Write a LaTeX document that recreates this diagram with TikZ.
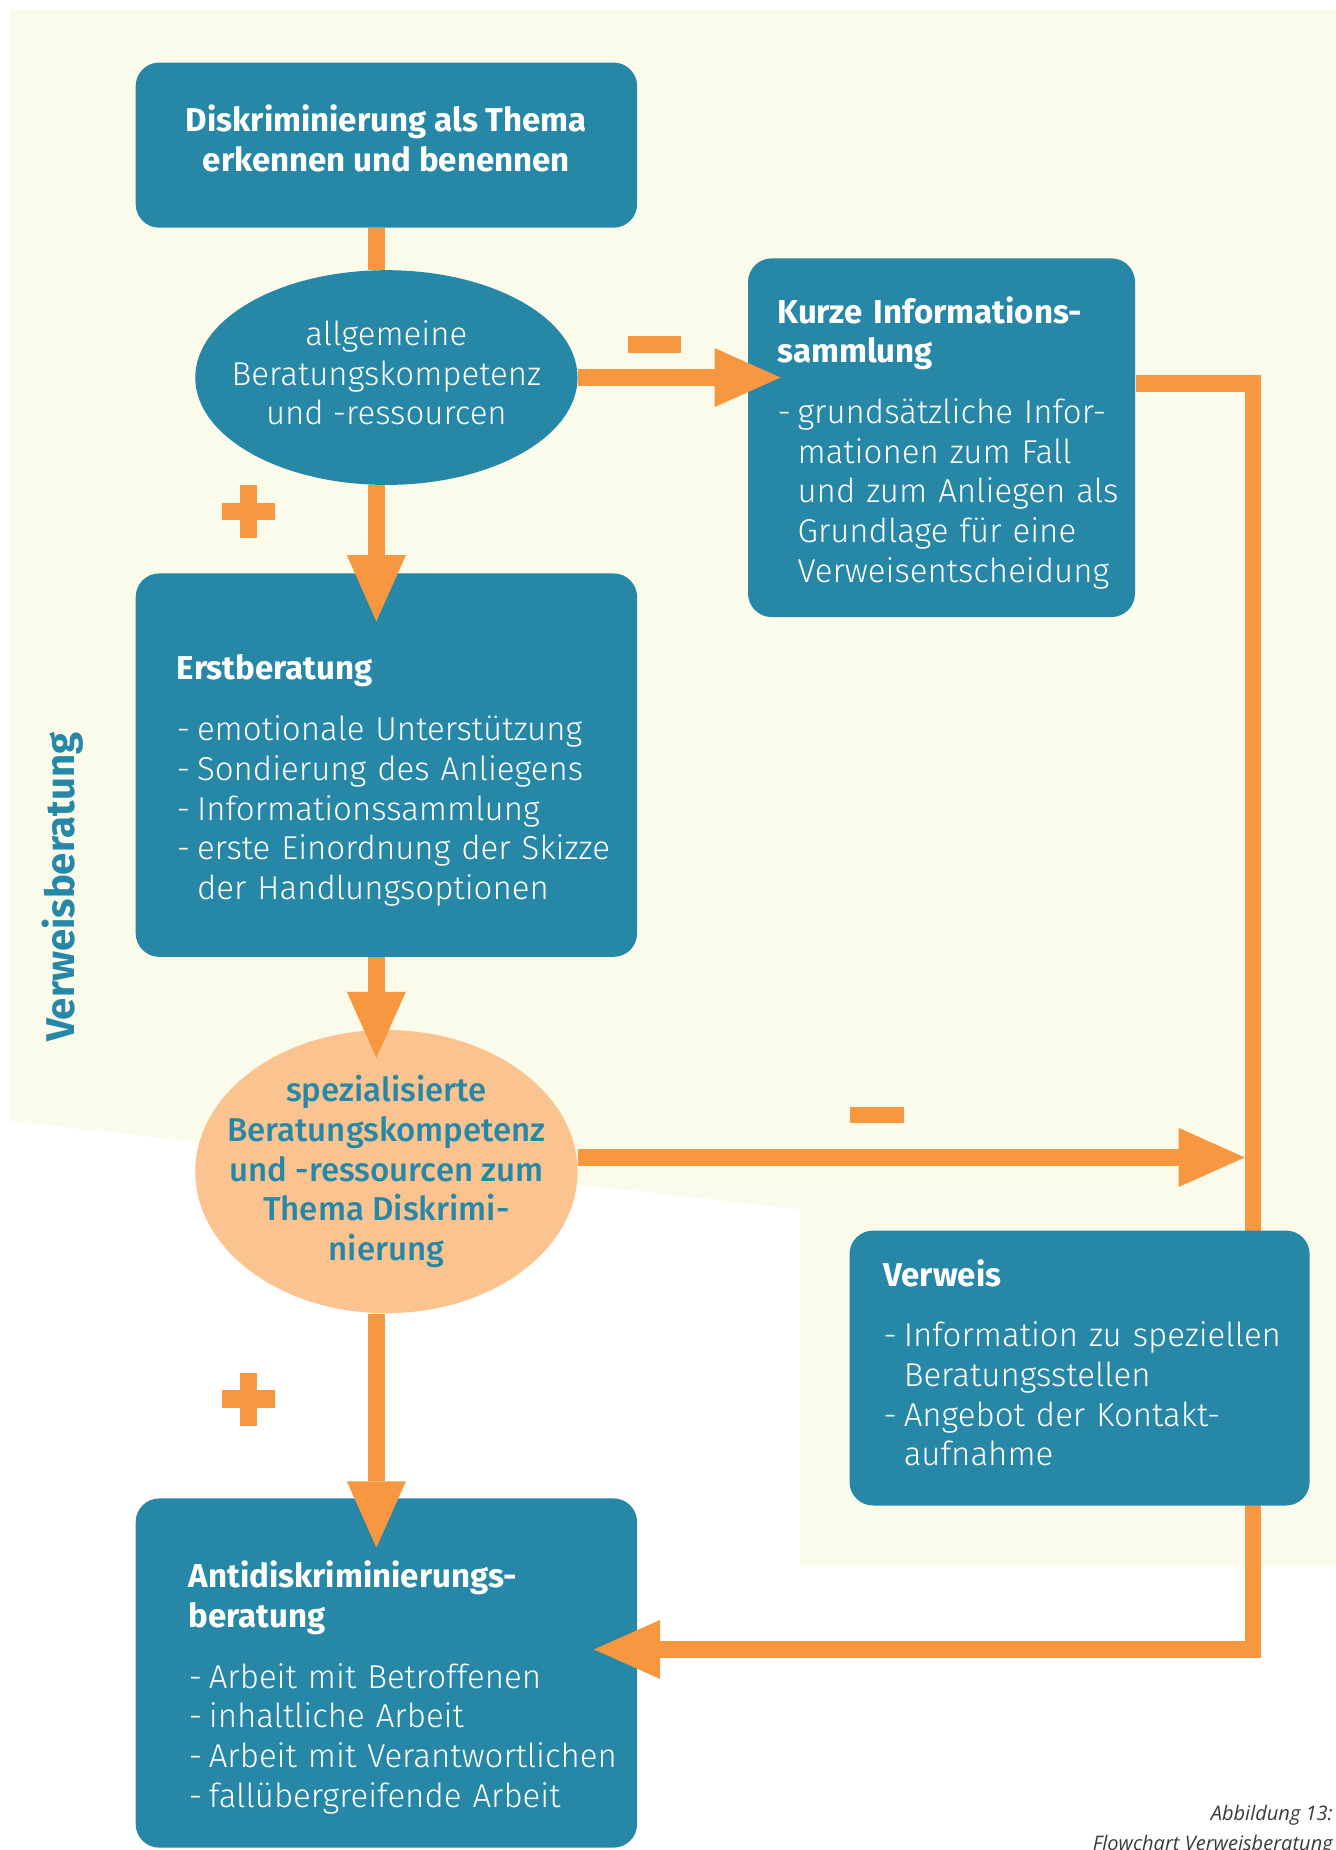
\documentclass[tikz,border=0pt]{standalone}
\usepackage{fontspec}
\setmainfont{Fira Sans}
\newfontfamily\leicht{Fira Sans Light}
\newfontfamily\mittel{Fira Sans Medium}
\newfontfamily\unterschrift{Open Sans}
\usepackage{tikz}
\usetikzlibrary{shapes.geometric}
\usetikzlibrary{arrows.meta}
\usetikzlibrary{positioning}
\definecolor{petrol}{HTML}{2787A7}
\definecolor{pfeilorange}{HTML}{F7973F}
\definecolor{hellgelb}{HTML}{FAFBEA}
\definecolor{lachs}{HTML}{FAC38F}
\definecolor{grau}{HTML}{3A3A3A}
\newcommand{\titelschrift}{\normalfont\bfseries\fontsize{14}{16.8}\selectfont}
\newcommand{\textschrift}{\leicht\fontsize{14}{16.8}\selectfont}
\newcommand{\titel}[1]{{\titelschrift #1}}
\newcommand{\punkt}{\makebox[8.5pt][l]{-}}
\newcommand{\weiter}{\hspace*{8.5pt}}
\newcommand{\senken}[2]{\raisebox{-#1}[\height][\depth]{#2}}
\tikzstyle{block} = [rectangle, fill=petrol, text=white, rounded corners=10pt,
    inner sep=0pt, align=left, font=\textschrift]
\tikzstyle{oval} = [ellipse, inner sep=0pt, minimum width=162pt]
\tikzstyle{line} = [draw=pfeilorange, line width=7pt,
    -{Triangle[length=28pt,width=25pt,line width=0pt]}]
\tikzstyle{verbinder} = [draw=pfeilorange, line width=7pt]

\begin{document}
\begin{tikzpicture}[x=0.5pt, y=-0.5pt]
  \useasboundingbox (0,0) rectangle (1132,1568);
  % hintergrund
  \fill [hellgelb] (8,8) -- (1132,8) -- (1132,1328) -- (678,1328) -- (678,1025) -- (8,950) -- cycle;
  \coordinate (spine) at (319,0);
  \coordinate (eckeO) at (1062,325);
  \coordinate (eckeU) at (1062,1398);
  \coordinate (mitte) at (1055,981);
  % nodes
  \node [block, align=center, font=\titelschrift, text depth=6pt, minimum width=212.5pt, minimum height=70pt] (disk) at (327.5,123)
    {Diskriminierung als Thema\\erkennen und benennen};
  \node [oval, fill=petrol, minimum height=91pt, below of=disk, node distance=98.5pt] (allg) {};
  \node [text=white, align=center, font=\textschrift, yshift=2pt] (allgtext) at (allg) {allgemeine\\Beratungskompetenz\\und -ressourcen};
  \node [block, below of=allg, node distance=164.25pt, minimum width=212.5pt, minimum height=162.5pt,
    text width=177.5pt] (erst) {\senken{7pt}{%
    \begin{tabular}{@{}l@{}}
    \titel{Erstberatung}\\[9pt]
    \punkt emotionale Unterstützung\\
    \punkt Sondierung des Anliegens\\
    \punkt Informationssammlung\\
    \punkt erste Einordnung der Skizze\\
    \weiter der Handlungsoptionen
    \end{tabular}}};
  \node [oval, fill=lachs, minimum height=120pt, below of=erst, node distance=172.25pt] (spez) {};
  \node [text=petrol, align=center, font=\mittel\fontsize{14}{16.8}\selectfont] (speztext) at (spez)
    {spezialisierte\\Beratungskompetenz\\und -ressourcen zum\\Thema Diskrimi-\\nierung};
  \node [block, below of=spez, node distance=212.5pt, minimum width=212.5pt, minimum height=148pt,
    text width=167.5pt] (anti) {\senken{7pt}{%
    \begin{tabular}{@{}l@{}}
    \titel{Antidiskriminierungs-}\\
    \titel{beratung}\\[9pt]
    \punkt Arbeit mit Betroffenen\\
    \punkt inhaltliche Arbeit\\
    \punkt Arbeit mit Verantwortlichen\\
    \punkt fallübergreifende Arbeit
    \end{tabular}}};
  \node [block, minimum width=164pt, minimum height=152pt, text width=139pt] (kurz) at (798,371) {\senken{3pt}{%
    \begin{tabular}{@{}l@{}}
    \titel{Kurze Informations-}\\
    \titel{sammlung}\\[9pt]
    \punkt grundsätzliche Infor-\\
    \weiter mationen zum Fall\\
    \weiter und zum Anliegen als\\
    \weiter Grundlage für eine\\
    \weiter Verweisentscheidung
    \end{tabular}}};
  \node [rotate=90, text=petrol, font=\normalfont\bfseries\fontsize{17}{20}\selectfont] (seite) at (53,752) {Verweisberatung};
  \node [anchor=base east, align=right, text=grau, inner sep=0pt,
    font=\unterschrift\itshape\fontsize{8.5}{12.5}\selectfont] (abb) at (1130,1568)
    {Abbildung 13:\\Flowchart Verweisberatung};
  % edges
  \path [verbinder] (disk.south -| spine) -- (allg.north -| spine);
  \path [line, shorten >=-20.5pt] (allg.south -| spine) -- (erst.north -| spine);
  \path [line, shorten >=-12pt] (erst.south -| spine) -- (spez.north -| spine);
  \path [line, shorten >=-21pt] (spez.south -| spine) -- (anti.north -| spine);
  \path [line, shorten >=-14pt] (allg.east) -- (allg.east -| kurz.west);
  \path [line] (spez.east |- mitte) -- (mitte);
  \path [line, line join=miter, shorten >=-18.5pt] (kurz.east |- eckeO) -- (eckeO) -- (eckeU) -- (anti.east |- eckeU);
  % verweis liegt ueber der schleife
  \node [block, minimum width=195pt, minimum height=116.5pt, text width=166pt] (verw) at (915,1159.5) {%
    \begin{tabular}{@{}l@{}}
    \titel{Verweis}\\[9pt]
    \punkt Information zu speziellen\\
    \weiter Beratungsstellen\\
    \punkt Angebot der Kontakt-\\
    \weiter aufnahme
    \end{tabular}};
  % plus und minus
  \fill [pfeilorange] (532,285) rectangle (577,299);
  \fill [pfeilorange] (720,938) rectangle (766,952);
  \foreach \py in {433.5,1186} {
    \fill [pfeilorange] (188,\py-7.5) rectangle (233,\py+7.5);
    \fill [pfeilorange] (203,\py-22.5) rectangle (218,\py+22.5);
  }
\end{tikzpicture}
\end{document}
